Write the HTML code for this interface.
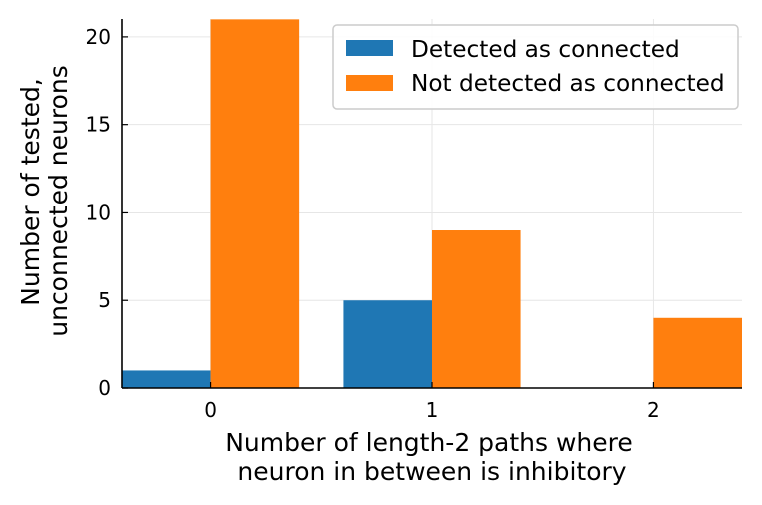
<!DOCTYPE html>
<html><head><meta charset="utf-8"><style>
body{margin:0;background:#fff;}
svg{display:block;font-family:"DejaVu Sans","Liberation Sans",sans-serif;}
</style></head><body>
<svg id="chart" width="762" height="505" viewBox="0 0 762 505" xmlns="http://www.w3.org/2000/svg"></svg>
<script>
const categories = ["0","1","2"];
const detectedValues = [1, 5, 0];
const notDetectedValues = [21, 9, 4];
const yTicks = [0, 5, 10, 15, 20];
const seriesNames = ["Detected as connected", "Not detected as connected"];

const NS = "http://www.w3.org/2000/svg";
const svg = document.getElementById("chart");
const L = 122, R = 742, T = 19, B = 388;
const xMin = -0.4, xMax = 2.4, yMax = 21.02;
const xs = v => L + (v - xMin) / (xMax - xMin) * (R - L);
const ys = v => B - v / yMax * (B - T);
function mk(tag, attrs, parent) {
  const e = document.createElementNS(NS, tag);
  for (const k in attrs) e.setAttribute(k, attrs[k]);
  (parent || svg).appendChild(e);
  return e;
}
yTicks.forEach(t => {
  const g = mk("line", {x1: L, x2: R, y1: ys(t), y2: ys(t), stroke: "#e6e6e6", "stroke-width": 1});
  
  
});
categories.forEach((c, i) => {
  const g = mk("line", {x1: xs(i), x2: xs(i), y1: T, y2: B, stroke: "#e6e6e6", "stroke-width": 1});
  
  
});
const w = 0.4;
categories.forEach((c, i) => {
  const b1 = mk("rect", {x: xs(i - w), y: ys(detectedValues[i]), width: xs(i) - xs(i - w), height: B - ys(detectedValues[i]), fill: "#1f77b4"});
  
  
  const v2 = Math.min(notDetectedValues[i], yMax);
  const b2 = mk("rect", {x: xs(i), y: ys(v2), width: xs(i + w) - xs(i), height: B - ys(v2), fill: "#ff7f0e"});
  
  
});
const ax = mk("line", {x1: L, x2: R, y1: B, y2: B, stroke: "#000", "stroke-width": 1.6});


const ay = mk("line", {x1: L, x2: L, y1: T, y2: B, stroke: "#000", "stroke-width": 1.6});


yTicks.forEach(t => {
  mk("line", {x1: L, x2: L + 6, y1: ys(t), y2: ys(t), stroke: "#000", "stroke-width": 1.2});
  const tx = mk("text", {x: L - 11, y: ys(t) + 7, "text-anchor": "end", "font-size": 20, fill: "#000"});
  tx.textContent = t;
  
  
});
categories.forEach((c, i) => {
  mk("line", {x1: xs(i), x2: xs(i), y1: B, y2: B - 6, stroke: "#000", "stroke-width": 1.2});
  const tx = mk("text", {x: xs(i), y: B + 29, "text-anchor": "middle", "font-size": 20, fill: "#000"});
  tx.textContent = c;
  
  
});
</script>
<svg style="position:absolute;left:0;top:0" width="762" height="505" xmlns="http://www.w3.org/2000/svg" font-family="DejaVu Sans, Liberation Sans, sans-serif">
  <text x="429" y="451" text-anchor="middle" font-size="25">Number of length-2 paths where</text>
  <text x="432" y="480" text-anchor="middle" font-size="25">neuron in between is inhibitory</text>
  <text transform="translate(39,192) rotate(-90)" text-anchor="middle" font-size="25">Number of tested,</text>
  <text transform="translate(67,201) rotate(-90)" text-anchor="middle" font-size="25">unconnected neurons</text>
  <g>
    <rect x="333" y="25" width="405" height="84" rx="4" fill="#fff" fill-opacity="0.85" stroke="#ccc" stroke-width="1.5"/>
    <rect x="346" y="40" width="47" height="16" fill="#1f77b4"/>
    <text x="411" y="57" font-size="23.2">Detected as connected</text>
    <rect x="346" y="75" width="47" height="16" fill="#ff7f0e"/>
    <text x="411" y="91" font-size="23.2">Not detected as connected</text>
  </g>
</svg>
</body></html>
